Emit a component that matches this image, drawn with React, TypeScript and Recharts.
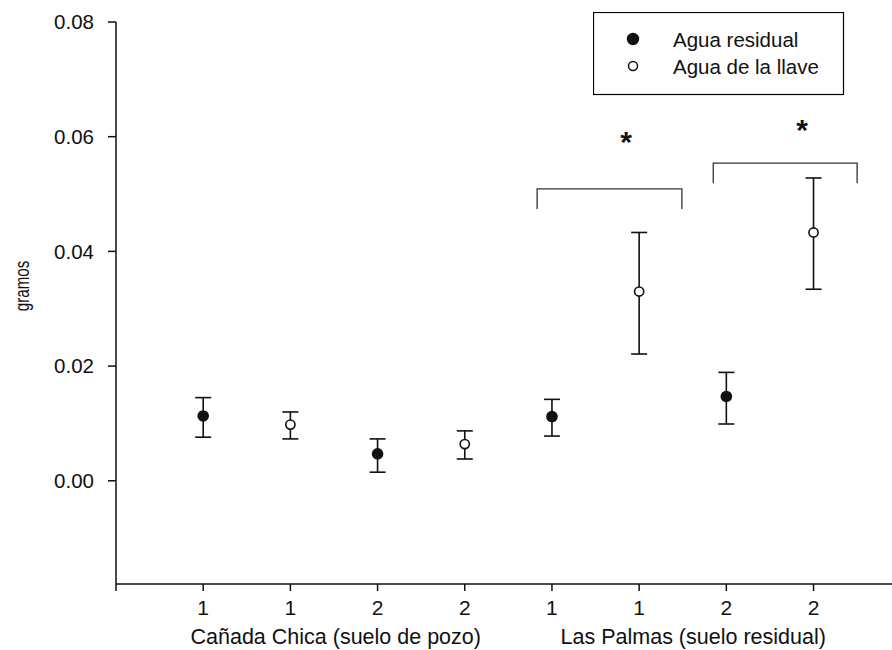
import React from 'react';
import {
  ScatterChart,
  Scatter,
  XAxis,
  YAxis,
  ErrorBar,
} from 'recharts';

// positions along x (1..8)
const residualX = [1, 3, 5, 7];
const residualMean = [0.0113, 0.0047, 0.0112, 0.0147];
const residualLow = [0.0076, 0.0015, 0.0078, 0.0099];
const residualHigh = [0.0145, 0.0073, 0.0142, 0.0189];

const llaveX = [2, 4, 6, 8];
const llaveMean = [0.0098, 0.0064, 0.033, 0.0433];
const llaveLow = [0.0073, 0.0038, 0.0221, 0.0334];
const llaveHigh = [0.012, 0.0087, 0.0433, 0.0528];

const xTicks = [0, 1, 2, 3, 4, 5, 6, 7, 8];
const xTickLabels = ['', '1', '1', '2', '2', '1', '1', '2', '2'];
const yTicks = [0, 0.02, 0.04, 0.06, 0.08];

const groupTicks = [2.52, 6.62];
const groupNames = ['Cañada Chica (suelo de pozo)', 'Las Palmas (suelo residual)'];

const legendNames = ['Agua residual', 'Agua de la llave'];

// significance brackets and stars
const bracketLeft = [
  { x: 4.83, y: 0.0474 },
  { x: 4.83, y: 0.0509 },
  { x: 6.49, y: 0.0509 },
  { x: 6.49, y: 0.0474 },
];
const bracketRight = [
  { x: 6.85, y: 0.0519 },
  { x: 6.85, y: 0.0554 },
  { x: 8.5, y: 0.0554 },
  { x: 8.5, y: 0.0519 },
];
const stars = [
  { x: 5.85, y: 0.0603 },
  { x: 7.87, y: 0.0624 },
];

const build = (xs: number[], mean: number[], low: number[], high: number[]) =>
  xs.map((x, i) => ({ x, y: mean[i], err: [mean[i] - low[i], high[i] - mean[i]] }));

const residualData = build(residualX, residualMean, residualLow, residualHigh);
const llaveData = build(llaveX, llaveMean, llaveLow, llaveHigh);

const FONT = '"Liberation Sans", Arial, sans-serif';
const INK = '#111';

const FilledDot = (props: any) => (
  <circle cx={props.cx} cy={props.cy} r={5.8} fill={INK} />
);
const OpenDot = (props: any) => (
  <circle cx={props.cx} cy={props.cy} r={4.6} fill="#fff" stroke={INK} strokeWidth={1.6} />
);
const NoDot = () => null;
const Star = (props: any) => (
  <text x={props.cx} y={props.cy + 17} textAnchor="middle" fontSize={30} fontWeight="bold" fontFamily={FONT} fill={INK}>
    *
  </text>
);

// legend box in page pixels
const LegendBox = () => (
  <svg width={252} height={84} style={{ position: 'absolute', left: 593, top: 12 }}>
    <rect x={0.5} y={0.5} width={250} height={82} fill="#fff" stroke="#000" strokeWidth={1.2} />
    <circle cx={40} cy={27} r={6.2} fill={INK} />
    <circle cx={40} cy={54} r={4.5} fill="#fff" stroke={INK} strokeWidth={1.5} />
    <text x={80} y={35} fontSize={20.5} fontFamily={FONT} fill={INK}>
      {legendNames[0]}
    </text>
    <text x={80} y={62} fontSize={20.5} fontFamily={FONT} fill={INK}>
      {legendNames[1]}
    </text>
  </svg>
);

export default function App() {
  return (
    <div style={{ position: 'absolute', left: 0, top: 0, width: 892, height: 650, background: '#fff' }}>
      <ScatterChart width={892} height={650} margin={{ top: 22, right: 0, left: 0, bottom: 0 }}>
        <XAxis
          dataKey="x"
          type="number"
          domain={[0, 8.9]}
          ticks={xTicks}
          tickFormatter={(v: number) => xTickLabels[v] ?? ''}
          allowDataOverflow
          height={30}
          tickSize={7}
          tickMargin={9}
          stroke={INK}
          strokeWidth={1.5}
          tick={{ fill: INK, fontSize: 21, fontFamily: FONT }}
        />
        <XAxis
          xAxisId="grp"
          dataKey="x"
          type="number"
          domain={[0, 8.9]}
          ticks={groupTicks}
          tickFormatter={(v: number) => groupNames[groupTicks.indexOf(v)] ?? ''}
          allowDataOverflow
          height={36}
          axisLine={false}
          tickLine={false}
          tickSize={0}
          tickMargin={15}
          interval={0}
          tick={{ fill: INK, fontSize: 21.5, fontFamily: FONT }}
        />
        <YAxis
          dataKey="y"
          type="number"
          domain={[-0.018, 0.08]}
          ticks={yTicks}
          tickFormatter={(v: number) => v.toFixed(2)}
          allowDataOverflow
          width={116}
          tickSize={8}
          tickMargin={14}
          stroke={INK}
          strokeWidth={1.5}
          tick={{ fill: INK, fontSize: 20.5, fontFamily: FONT }}
          label={{
            content: () => (
              <text
                x={0}
                y={0}
                transform="translate(22 286) rotate(-90) scale(0.72 1)"
                textAnchor="middle"
                dominantBaseline="central"
                fontSize={21}
                fontFamily={FONT}
                fill={INK}
              >
                gramos
              </text>
            ),
          }}
        />
        <Scatter name={legendNames[0]} data={residualData} shape={<FilledDot />} isAnimationActive={false}>
          <ErrorBar dataKey="err" direction="y" width={8} stroke={INK} strokeWidth={1.6} />
        </Scatter>
        <Scatter name={legendNames[1]} data={llaveData} shape={<OpenDot />} isAnimationActive={false}>
          <ErrorBar dataKey="err" direction="y" width={8} stroke={INK} strokeWidth={1.6} />
        </Scatter>
        <Scatter
          data={bracketLeft}
          line={{ stroke: '#333', strokeWidth: 1.3 }}
          shape={<NoDot />}
          legendType="none"
          isAnimationActive={false}
        />
        <Scatter
          data={bracketRight}
          line={{ stroke: '#333', strokeWidth: 1.3 }}
          shape={<NoDot />}
          legendType="none"
          isAnimationActive={false}
        />
        <Scatter data={stars} shape={<Star />} legendType="none" isAnimationActive={false} />
      </ScatterChart>
      <LegendBox />
    </div>
  );
}
